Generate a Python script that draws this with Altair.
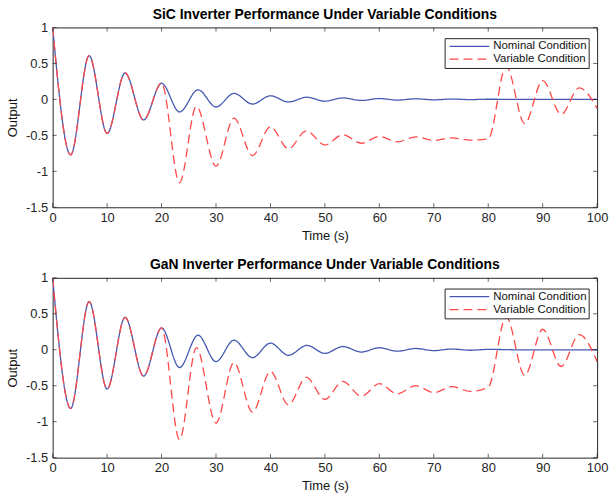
import altair as alt
import pandas as pd

# ---- data (extrema of each curve) ----
T_NOM = [0, 3.3, 6.7, 10, 13.3, 16.7, 20, 23.3, 26.7, 30, 33.3, 36.7, 40, 43.3,
         46.7, 50, 53.3, 56.7, 60, 63.3, 66.7, 70, 73.3, 76.7, 80, 86.7, 100]
T_VAR = [0, 3.3, 6.7, 10, 13.3, 16.7, 20, 23.3, 26.4, 30, 33.3, 36.7, 40, 43.3,
         46.6, 50, 53.3, 56.7, 60, 63.3, 66.7, 70, 73.3, 76.7, 80, 83.3, 86.7,
         90, 93.4, 96.7, 100]

SIC_NOM = [1.0, -0.772, 0.607, -0.474, 0.367, -0.286, 0.225, -0.175, 0.133, -0.106,
           0.083, -0.065, 0.05, -0.036, 0.03, -0.025, 0.02, -0.015, 0.012, -0.01,
           0.008, -0.006, 0.004, -0.003, 0.002, -0.001, 0.0]
SIC_VAR = [1.0, -0.772, 0.607, -0.474, 0.367, -0.286, 0.225, -1.159, -0.097, -0.93,
           -0.262, -0.782, -0.382, -0.686, -0.437, -0.635, -0.49, -0.61, -0.515,
           -0.59, -0.52, -0.57, -0.534, -0.566, -0.55, 0.46, -0.336, 0.262, -0.207,
           0.16, -0.124]

GAN_NOM = [1.0, -0.816, 0.67, -0.545, 0.45, -0.366, 0.303, -0.247, 0.202, -0.165,
           0.133, -0.11, 0.092, -0.077, 0.06, -0.05, 0.045, -0.032, 0.028, -0.02,
           0.018, -0.012, 0.01, -0.007, 0.005, -0.002, 0.0]
GAN_VAR = [1.0, -0.816, 0.67, -0.545, 0.45, -0.366, 0.303, -1.25, 0.03, -1.02,
           -0.178, -0.866, -0.302, -0.765, -0.385, -0.69, -0.44, -0.646, -0.472,
           -0.614, -0.5, -0.596, -0.513, -0.58, -0.52, 0.46, -0.357, 0.285, -0.233,
           0.21, -0.165]

SERIES = ["Nominal Condition", "Variable Condition"]
X_TICKS = [0, 10, 20, 30, 40, 50, 60, 70, 80, 90, 100]
Y_TICKS = [-1.5, -1, -0.5, 0, 0.5, 1]
TITLES = ["SiC Inverter Performance Under Variable Conditions",
          "GaN Inverter Performance Under Variable Conditions"]

W, H = 548, 181
AX = "#262626"
FONT = "Liberation Sans"


def frame(t_nom, y_nom, t_var, y_var):
    rows = [{"t": t, "y": y, "Condition": SERIES[0], "k": 0} for t, y in zip(t_nom, y_nom)]
    rows += [{"t": t, "y": y, "Condition": SERIES[1], "k": 1} for t, y in zip(t_var, y_var)]
    return pd.DataFrame(rows)


def panel(df, title):
    xs = alt.Scale(domain=[0, 100], nice=False, zero=False)
    ys = alt.Scale(domain=[-1.5, 1], nice=False, zero=False)
    xa = alt.Axis(values=X_TICKS, title="Time (s)", grid=False, domain=False,
                  ticks=False, labelPadding=4, titlePadding=5,
                  labelOverlap=False, labelFlush=False,
                  labelExpr="'' + datum.value")
    ya = alt.Axis(values=Y_TICKS, title="Output", grid=False, domain=False,
                  ticks=False, labelPadding=5, titlePadding=6,
                  labelOverlap=False, labelFlush=False,
                  labelExpr="'' + datum.value")
    lines = alt.Chart(df).mark_line(strokeWidth=1.3, interpolate="monotone", clip=True).encode(
        x=alt.X("t:Q", scale=xs, axis=xa),
        y=alt.Y("y:Q", scale=ys, axis=ya),
        color=alt.Color("Condition:N",
                        scale=alt.Scale(domain=SERIES, range=["#4459B0", "#FF4848"]),
                        legend=alt.Legend(title=None, orient="none", legendX=394.5, legendY=10.8,
                                          symbolType="stroke", symbolSize=1600,
                                          clipHeight=12.3, symbolOffset=2,
                                          symbolStrokeWidth=1.3, labelFontSize=11.5,
                                          labelFont=FONT, labelColor="#111111",
                                          fillColor="white", strokeColor=AX, padding=2,
                                          rowPadding=0, labelOffset=3, cornerRadius=0)),
        strokeDash=alt.StrokeDash("Condition:N",
                                  scale=alt.Scale(domain=SERIES, range=[[1, 0], [9, 5]]),
                                  legend=None),
        order=alt.Order("k:Q"),
        detail="Condition:N",
    )
    xt = pd.DataFrame({"t": X_TICKS})
    yt = pd.DataFrame({"y": Y_TICKS})
    tb = alt.Chart(xt).mark_tick(color=AX, size=4, thickness=1, orient="vertical").encode(
        x=alt.X("t:Q", scale=xs, axis=xa), y=alt.value(H - 2))
    tt = alt.Chart(xt).mark_tick(color=AX, size=4, thickness=1, orient="vertical").encode(
        x=alt.X("t:Q", scale=xs, axis=xa), y=alt.value(2))
    tl = alt.Chart(yt).mark_tick(color=AX, size=4, thickness=1, orient="horizontal").encode(
        y=alt.Y("y:Q", scale=ys, axis=ya), x=alt.value(2))
    tr = alt.Chart(yt).mark_tick(color=AX, size=4, thickness=1, orient="horizontal").encode(
        y=alt.Y("y:Q", scale=ys, axis=ya), x=alt.value(W - 2))
    return alt.layer(lines, tb, tt, tl, tr).properties(
        width=W, height=H,
        title=alt.TitleParams(title, fontSize=14, font=FONT, fontWeight="bold",
                              color="black", anchor="middle", offset=0),
    )


top = panel(frame(T_NOM, SIC_NOM, T_VAR, SIC_VAR), TITLES[0])
bot = panel(frame(T_NOM, GAN_NOM, T_VAR, GAN_VAR), TITLES[1])

chart = alt.vconcat(top, bot, spacing=14).resolve_scale(
    color="independent", strokeDash="independent"
).resolve_legend(
    color="independent", strokeDash="independent"
).properties(
    padding={"left": 6, "top": 5, "right": 5, "bottom": 5},
    background="white",
).configure_view(stroke=AX, strokeWidth=1).configure_axis(
    labelFont=FONT, labelFontSize=13, labelColor=AX, labelOverlap=False,
    titleFont=FONT, titleFontSize=13, titleFontWeight="normal", titleColor="#111111",
)

chart.save("out.html", embed_options={"renderer": "svg", "actions": False})
